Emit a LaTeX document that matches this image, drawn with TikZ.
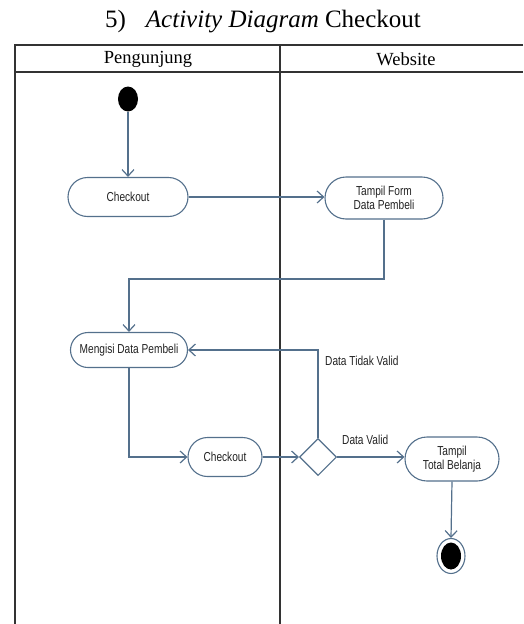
\documentclass[tikz,border=0pt]{standalone}
\usepackage{fontspec}
\setmainfont{Liberation Serif}
\newfontfamily\boxfont[FakeStretch=0.78]{Liberation Sans}
\usetikzlibrary{arrows.meta,shapes.geometric,shapes.misc}
\definecolor{flow}{RGB}{84,112,140}
\definecolor{labeltext}{RGB}{35,35,35}
\tikzset{
  x=1pt, y=-1pt,
  lane/.style={draw=black!80, line width=1.4pt},
  action/.style={draw=flow, line width=1.1pt, rounded rectangle, fill=white,
    font=\boxfont\fontsize{13}{14}\selectfont, text=labeltext,
    align=center, inner sep=0pt},
  decision/.style={draw=flow, line width=1.1pt, diamond, fill=white,
    minimum width=37pt, minimum height=37pt, inner sep=0pt},
  flowline/.style={draw=flow, line width=1.2pt,
    -{Straight Barb[length=6.5pt,width=12pt,line width=1.2pt]}},
  guard/.style={font=\boxfont\fontsize{13}{14}\selectfont, text=labeltext,
    inner sep=0pt, anchor=west},
}
\begin{document}
\begin{tikzpicture}
\useasboundingbox (0,0) rectangle (523,624);

% title
\node (title) [anchor=base, inner sep=0pt] at (263,27)
  {\fontsize{25}{28}\selectfont 5)\hspace{20pt}\textit{Activity Diagram} Checkout};

% swimlane frame
\draw[lane] (523,45) -- (15,45) -- (15,624);
\draw[lane] (15,72) -- (523,72);
\draw[lane] (280,45) -- (280,624);
\node (laneA) at (148,59) {\fontsize{18.5}{20}\selectfont Pengunjung};
\node (laneB) at (406,59) {\fontsize{18.5}{20}\selectfont Website};

% start and end
\node (start) [ellipse, fill=black, minimum width=20pt,
  minimum height=25pt, inner sep=0pt] at (128,99) {};
\node (end) [ellipse, fill=white, draw=flow, line width=1.1pt,
  minimum width=28pt, minimum height=35pt, inner sep=0pt] at (451,556) {};
\node (endcore) [ellipse, fill=black, minimum width=20pt,
  minimum height=27pt, inner sep=0pt] at (451,556) {};

% actions
\node (co1) [action, minimum width=120pt, minimum height=39pt] at (128,197) {Checkout};
\node (form) [action, minimum width=118pt, minimum height=42pt] at (384,198) {Tampil Form\\Data Pembeli};
\node (fill) [action, minimum width=117pt, minimum height=35pt] at (129,350) {Mengisi Data Pembeli};
\node (co2) [action, minimum width=74pt, minimum height=39pt] at (225,457) {Checkout};
\node (valid) [decision] at (318,457) {};
\node (total) [action, minimum width=94pt, minimum height=44pt] at (452,459) {Tampil\\Total Belanja};

% flows
\draw[flowline] (start) -- (co1);
\draw[flowline] (co1.east) -- (form.west |- co1.east);
\draw[flowline] (form.south) -- (384,279) -- (fill.north |- 0,279) -- (fill.north);
\draw[flowline] (valid.north) -- (318,350) -- (fill.east);
\draw[flowline] (fill.south) -- (fill.south |- co2.west) -- (co2.west);
\draw[flowline] (co2.east) -- (valid.west);
\draw[flowline] (valid.east) -- (total.west |- valid.east);
\draw[flowline] (total.south) -- (end.north);

% guards
\node (gNo) [guard] at (325,361) {Data Tidak Valid};
\node (gYes) [guard] at (342,440) {Data Valid};
\end{tikzpicture}
\end{document}
